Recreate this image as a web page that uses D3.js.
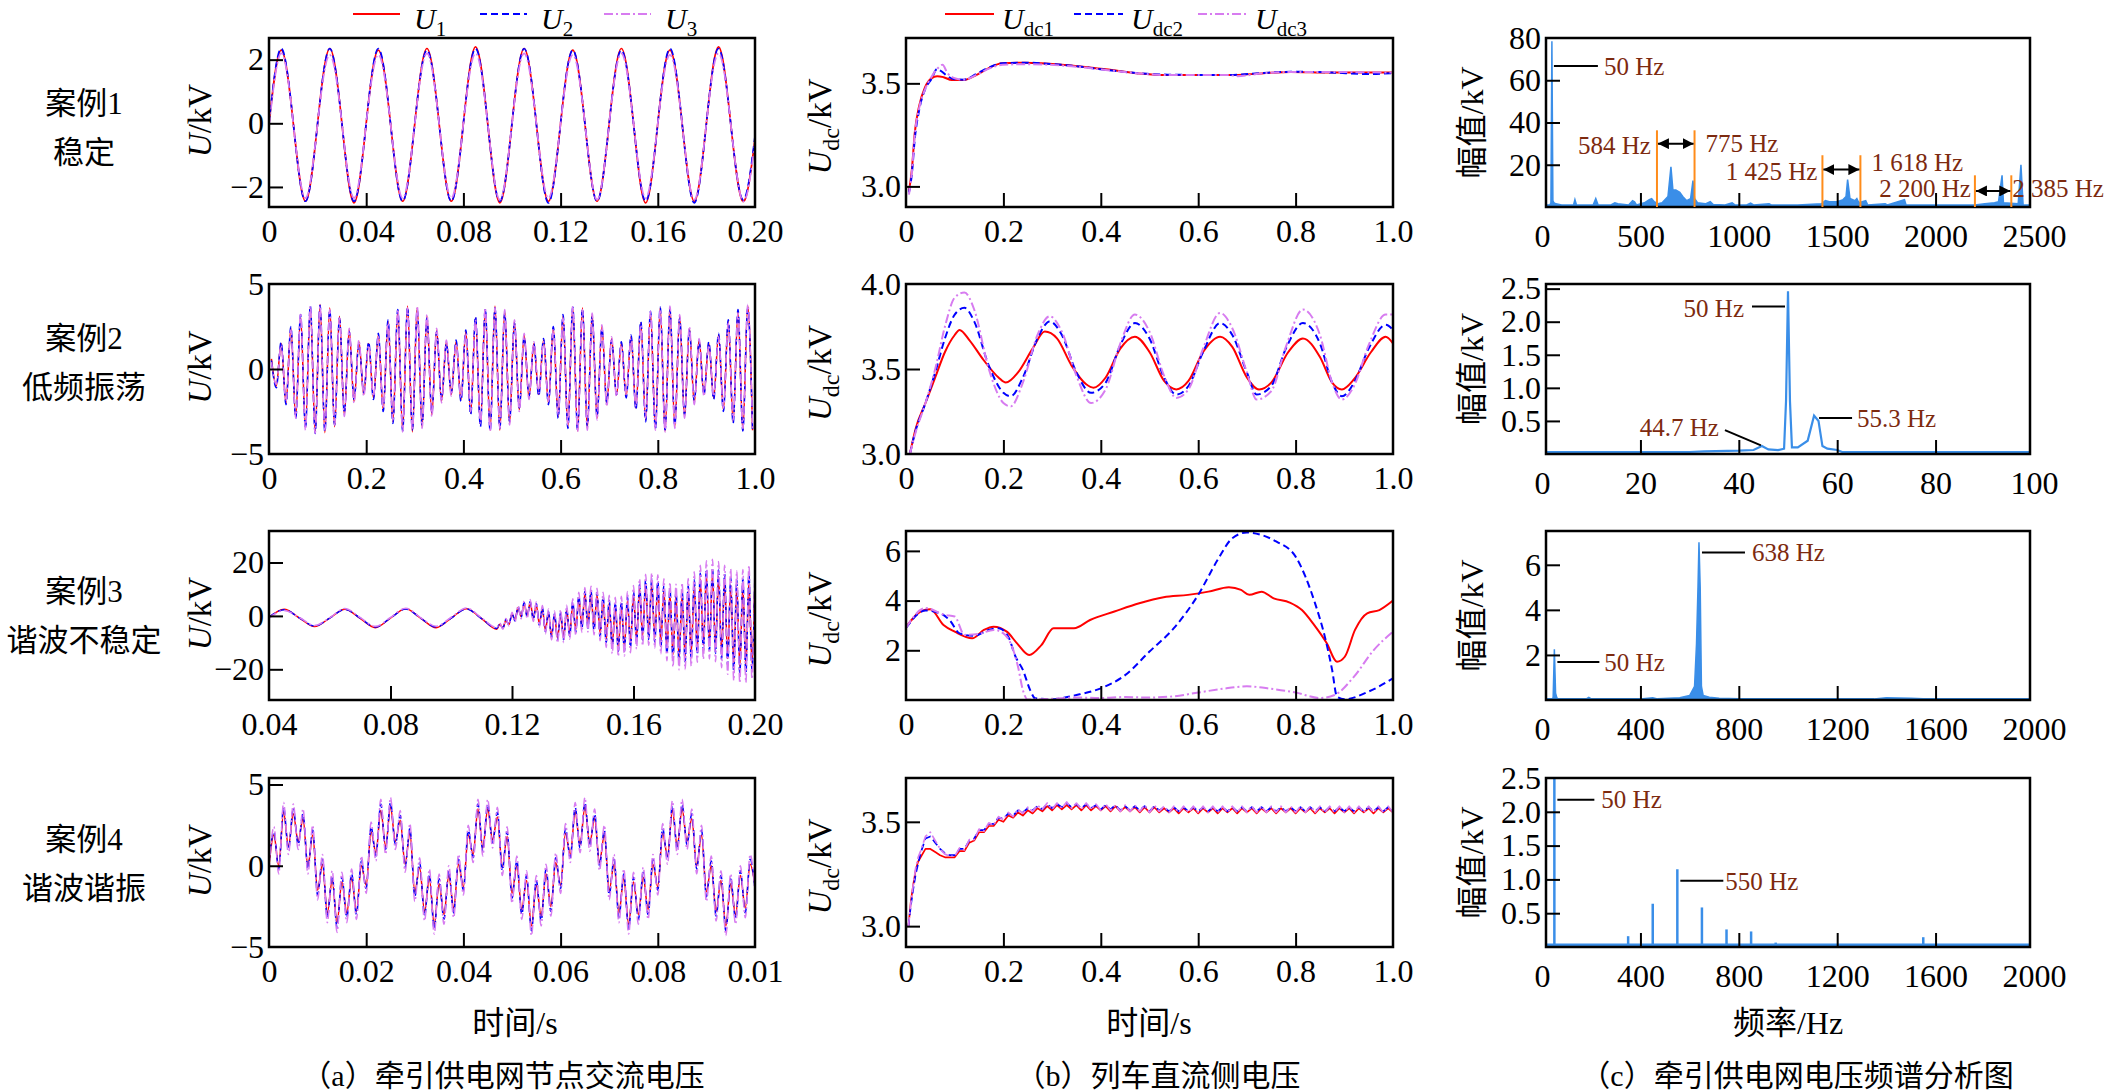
<!DOCTYPE html>
<html><head><meta charset="utf-8">
<script src="https://cdn.jsdelivr.net/npm/d3@7/dist/d3.min.js"></script>
<style>html,body{margin:0;padding:0;background:#fff}svg{display:block}</style>
</head><body>
<svg id="chart" width="2107" height="1092"></svg>
<script>
// ===================== DATA =====================
const caseNames = ["案例1", "案例2", "案例3", "案例4"];
const caseTypes = ["稳定", "低频振荡", "谐波不稳定", "谐波谐振"];
const acLegendSubs = ["1", "2", "3"];
const dcLegendSubs = ["dc1", "dc2", "dc3"];
const xTitles = ["时间/s", "时间/s", "频率/Hz"];
const captions = ["（a）牵引供电网节点交流电压", "（b）列车直流侧电压", "（c）牵引供电网电压频谱分析图"];

// tick values / labels
const ac1XTicks = [0, 0.04, 0.08, 0.12, 0.16, 0.2], ac1XLabels = ["0", "0.04", "0.08", "0.12", "0.16", "0.20"];
const secXTicks = [0, 0.2, 0.4, 0.6, 0.8, 1.0], secXLabels = ["0", "0.2", "0.4", "0.6", "0.8", "1.0"];
const ac3XTicks = [0.04, 0.08, 0.12, 0.16, 0.2], ac3XLabels = ["0.04", "0.08", "0.12", "0.16", "0.20"];
const ac4XTicks = [0, 0.02, 0.04, 0.06, 0.08, 0.1], ac4XLabels = ["0", "0.02", "0.04", "0.06", "0.08", "0.01"];
const sp1XTicks = [0, 500, 1000, 1500, 2000, 2500], sp1XLabels = ["0", "500", "1000", "1500", "2000", "2500"];
const sp2XTicks = [0, 20, 40, 60, 80, 100], sp2XLabels = ["0", "20", "40", "60", "80", "100"];
const sp34XTicks = [0, 400, 800, 1200, 1600, 2000], sp34XLabels = ["0", "400", "800", "1200", "1600", "2000"];

const ac1YTicks = [-2, 0, 2], ac1YLabels = ["−2", "0", "2"];
const ac5YTicks = [-5, 0, 5], ac5YLabels = ["−5", "0", "5"];
const ac3YTicks = [-20, 0, 20], ac3YLabels = ["−20", "0", "20"];
const dc1YTicks = [3.0, 3.5], dc1YLabels = ["3.0", "3.5"];
const dc2YTicks = [3.0, 3.5, 4.0], dc2YLabels = ["3.0", "3.5", "4.0"];
const dc3YTicks = [2, 4, 6], dc3YLabels = ["2", "4", "6"];
const sp1YTicks = [20, 40, 60, 80], sp1YLabels = ["20", "40", "60", "80"];
const sp2YTicks = [0.5, 1.0, 1.5, 2.0, 2.5], sp2YLabels = ["0.5", "1.0", "1.5", "2.0", "2.5"];
const sp3YTicks = [2, 4, 6], sp3YLabels = ["2", "4", "6"];

// ---- Case 1 AC (samples every 0.005 s from 0) ----
const ac1U1 = [0,2.3,0,-2.45, 0,2.35,0,-2.5, 0,2.3,0,-2.45, 0,2.35,0,-2.45, 0,2.4,0,-2.5, 0,2.35,0,-2.45, 0,2.3,0,-2.45, 0,2.35,0,-2.5, 0,2.3,0,-2.45, 0,2.4,0,-2.45, -0.5];
const ac1U2 = [0,2.35,0,-2.45, 0,2.35,0,-2.45, 0,2.35,0,-2.45, 0,2.3,0,-2.45, 0,2.35,0,-2.45, 0,2.35,0,-2.5, 0,2.3,0,-2.45, 0,2.3,0,-2.45, 0,2.35,0,-2.5, 0,2.35,0,-2.4, -0.4];
const ac1U3 = [-0.1,2.2,0,-2.35, 0,2.15,0,-2.35, 0,2.15,0,-2.35, 0,2.2,0,-2.35, 0,2.2,0,-2.4, 0,2.2,0,-2.35, 0,2.15,0,-2.4, 0,2.2,0,-2.35, 0,2.15,0,-2.4, 0,2.2,0,-2.45, -0.6];

// ---- Case 2 AC (extrema every 0.01 s from 0.005) ----
const ac2U1 = [0.6,-1.0,1.5,-2.0,2.4,-2.8,3.1,-3.4,3.6,-3.7, 3.8,-3.75,3.6,-3.4,3.1,-2.7,2.3,-1.9,1.6,-1.5,
  1.5,-1.7,2.0,-2.4,2.8,-3.1,3.4,-3.6,3.7,-3.7, 3.6,-3.4,3.1,-2.7,2.3,-1.9,1.6,-1.5,1.6,-1.8,
  2.2,-2.6,3.0,-3.3,3.5,-3.6,3.7,-3.6,3.4,-3.2, 2.8,-2.4,2.0,-1.7,1.5,-1.5,1.7,-2.0,2.4,-2.8,
  3.1,-3.4,3.6,-3.65,3.6,-3.5,3.2,-2.9,2.5,-2.1, 1.8,-1.55,1.5,-1.6,1.9,-2.3,2.7,-3.0,3.3,-3.5,
  3.6,-3.65,3.6,-3.4,3.1,-2.8,2.4,-2.0,1.7,-1.5, 1.5,-1.7,2.0,-2.4,2.8,-3.1,3.4,-3.6,3.7,-3.6];
const ac2U2 = [0.5,-1.1,1.6,-2.1,2.5,-2.9,3.2,-3.5,3.7,-3.8, 3.75,-3.7,3.5,-3.3,3.0,-2.6,2.2,-1.8,1.5,-1.4,
  1.6,-1.8,2.1,-2.5,2.9,-3.2,3.5,-3.65,3.65,-3.6, 3.5,-3.3,3.0,-2.6,2.2,-1.8,1.5,-1.4,1.7,-1.9,
  2.3,-2.7,3.1,-3.4,3.55,-3.65,3.6,-3.5,3.3,-3.1, 2.7,-2.3,1.9,-1.6,1.5,-1.6,1.8,-2.1,2.5,-2.9,
  3.2,-3.5,3.65,-3.6,3.55,-3.4,3.1,-2.8,2.4,-2.0, 1.7,-1.5,1.6,-1.7,2.0,-2.4,2.8,-3.1,3.4,-3.55,
  3.65,-3.6,3.5,-3.3,3.0,-2.7,2.3,-1.9,1.6,-1.5, 1.6,-1.8,2.1,-2.5,2.9,-3.2,3.5,-3.65,3.6,-3.7];
const ac2U3 = [0.4,-0.9,1.4,-1.9,2.3,-2.9,3.3,-3.6,3.7,-3.8, 3.7,-3.6,3.5,-3.3,3.0,-2.8,2.4,-2.0,1.7,-1.6,
  1.4,-1.6,1.9,-2.3,2.7,-3.0,3.5,-3.7,3.6,-3.6, 3.7,-3.5,3.2,-2.8,2.4,-2.0,1.7,-1.6,1.5,-1.7,
  2.1,-2.5,2.9,-3.2,3.6,-3.7,3.6,-3.5,3.5,-3.3, 2.9,-2.5,2.1,-1.8,1.6,-1.4,1.6,-1.9,2.3,-2.7,
  3.0,-3.3,3.7,-3.7,3.5,-3.6,3.3,-3.0,2.6,-2.2, 1.9,-1.6,1.4,-1.5,1.8,-2.2,2.6,-2.9,3.4,-3.6,
  3.5,-3.7,3.7,-3.5,3.2,-2.9,2.5,-2.1,1.8,-1.6, 1.4,-1.6,1.9,-2.3,2.7,-3.0,3.3,-3.5,3.8,-3.5];

// ---- Case 3 AC: part A every 0.005 s from 0.04, part B every 0.001 s from 0.116 ----
const ac3U1A = [-0.6,2.5,-0.8,-4.0,-0.8,2.5,-0.9,-4.4,-0.8,2.7,-0.9,-4.4,-0.8,2.7,-1.0,-5.0];
const ac3U2A = [-0.5,2.3,-0.7,-3.8,-0.8,2.4,-0.8,-4.2,-0.8,2.6,-0.9,-4.2,-0.8,2.6,-1.0,-4.7];
const ac3U3A = [-0.8,2.0,-0.6,-3.6,-0.7,2.8,-0.6,-3.9,-0.6,2.9,-0.7,-3.9,-0.5,3.0,-0.8,-4.3];
const ac3U1B = [-3.1,-4.5,-1.6,-3.2,0.7,-1.6,3.1,-0.3,4.6,0.0, 5.0,-0.9,4.1,-2.9,2.5,-5.3,1.0,-7.4,0.1,-8.3,
  0.5,-8.1,2.1,-6.8,4.3,-5.1,6.7,-3.8,8.2,-3.5, 8.5,-4.5,7.7,-6.5,6.1,-8.9,4.6,-11.0,3.7,-11.9,
  4.1,-11.6,5.6,-10.3,7.9,-8.7,10.2,-7.4,11.8,-7.1, 12.1,-8.1,11.3,-10.1,9.7,-12.4,8.1,-14.5,7.3,-15.5,
  7.6,-15.2,9.2,-13.9,11.4,-12.3,13.8,-10.9,15.3,-10.7, 15.7,-11.6,14.8,-13.6,13.2,-16.0,11.7,-18.1,10.9,-19.1,
  11.2,-18.8,12.7,-17.5,15.0];
const ac3U2B = [-2.9,-4.7,-1.3,-3.4,1.0,-1.9,3.4,-0.6,5.0,-0.4, 5.4,-1.4,4.6,-3.5,3.1,-5.9,1.7,-8.1,0.9,-9.1,
  1.3,-8.9,2.9,-7.6,5.2,-6.1,7.6,-4.8,9.2,-4.6, 9.6,-5.6,8.8,-7.7,7.3,-10.1,5.9,-12.3,5.1,-13.3,
  5.5,-13.1,7.1,-11.8,9.4,-10.3,11.8,-9.0,13.4,-8.8, 13.8,-9.8,13.0,-11.9,11.5,-14.3,10.1,-16.5,9.3,-17.5,
  9.7,-17.3,11.3,-16.0,13.6,-14.5,16.0,-13.2,17.6,-13.0, 18.0,-14.0,17.2,-16.1,15.7,-18.5,14.3,-20.7,13.5,-21.7,
  13.9,-21.5,15.5,-20.2,17.8];
const ac3U3B = [-2.7,-5.0,-1.0,-3.7,1.4,-2.3,3.9,-1.1,5.6,-1.0, 6.1,-2.1,5.3,-4.2,3.9,-6.8,2.6,-9.0,1.8,-10.1,
  2.3,-10.0,4.0,-8.7,6.4,-7.3,8.9,-6.2,10.6,-6.0, 11.1,-7.1,10.4,-9.3,8.9,-11.8,7.7,-14.1,7.0,-15.2,
  7.4,-15.0,9.1,-13.8,11.4,-12.4,13.9,-11.2,15.6,-11.0, 16.1,-12.1,15.4,-14.3,13.9,-16.8,12.6,-19.1,11.9,-20.2,
  12.4,-20.1,14.0,-18.8,16.5,-17.4,19.0,-16.2,20.7,-16.1, 21.2,-17.2,20.4,-19.4,19.0,-21.9,17.6,-24.2,16.9,-25.2,
  17.4,-25.0,19.0,-23.7,21.3];

// ---- Case 4 AC (every 0.001 s from 0) ----
const ac4U1 = [0,1.9,0.0,3.3,1.2,3.2,1.5,2.9,0.0,1.9, -1.5,0.1,-2.9,-0.9,-3.5,-1.0,-2.9,-0.8,-2.8,0.0,
  -1.2,2.1,0.8,3.4,1.2,3.6,1.5,2.8,0.1,2.0, -1.6,-0.1,-2.8,-0.8,-3.6,-1.1,-3.0,-0.6,-2.6,0.1,
  -1.3,1.9,0.7,3.5,1.1,3.5,1.6,3.0,-0.1,1.8, -1.7,0.0,-2.7,-0.9,-3.7,-1.2,-3.1,-0.5,-2.5,0.2,
  -1.2,2.0,0.7,3.3,1.3,3.6,1.4,2.9,0.2,1.9, -1.5,0.1,-2.9,-0.8,-3.6,-1.0,-3.0,-0.7,-2.7,0.1,
  -1.3,2.0,0.6,3.4,1.2,3.5,1.5,2.9,0.0,1.9, -1.6,0.0,-2.8,-0.9,-3.7,-1.1,-3.0,-0.6,-2.6,0.1, -1.2];
const ac4U2 = [0.2,2.1,-0.2,3.6,1.0,3.5,1.3,3.2,-0.2,2.2, -1.8,0.4,-3.2,-0.6,-3.8,-0.7,-3.2,-0.5,-3.0,0.3,
  -1.4,2.4,0.6,3.8,1.0,3.9,1.3,3.1,-0.1,2.3, -1.9,0.2,-3.1,-0.5,-3.9,-0.8,-3.3,-0.3,-2.9,0.4,
  -1.5,2.2,0.5,3.8,0.9,3.8,1.4,3.3,-0.3,2.1, -2.0,0.3,-3.0,-0.6,-4.0,-0.9,-3.4,-0.2,-2.8,0.5,
  -1.4,2.3,0.5,3.6,1.1,3.9,1.2,3.2,0.0,2.2, -1.8,0.4,-3.2,-0.5,-3.9,-0.7,-3.3,-0.4,-3.0,0.4,
  -1.5,2.3,0.4,3.7,1.0,3.8,1.3,3.2,-0.2,2.2, -1.9,0.3,-3.1,-0.6,-4.0,-0.8,-3.3,-0.3,-2.9,0.4, -1.4];
const ac4U3 = [-0.4,2.4,-0.5,3.9,0.7,3.8,1.0,3.5,-0.5,2.5, -2.1,0.7,-3.5,-0.3,-4.1,-0.4,-3.5,-0.2,-3.3,0.6,
  -1.7,2.7,0.3,4.1,0.7,4.2,1.0,3.4,-0.4,2.6, -2.2,0.5,-3.4,-0.2,-4.2,-0.5,-3.6,0.0,-3.2,0.7,
  -1.8,2.5,0.2,4.1,0.6,4.1,1.1,3.6,-0.6,2.4, -2.3,0.6,-3.3,-0.3,-4.3,-0.6,-3.7,0.1,-3.1,0.8,
  -1.7,2.6,0.2,3.9,0.8,4.2,0.9,3.5,-0.3,2.5, -2.1,0.7,-3.5,-0.2,-4.2,-0.4,-3.6,-0.1,-3.3,0.7,
  -1.8,2.6,0.1,4.0,0.7,4.1,1.0,3.5,-0.5,2.5, -2.2,0.6,-3.4,-0.3,-4.3,-0.5,-3.6,0.0,-3.2,0.7, -1.7];

// ---- Case 1 DC ----
const dc1T1 = [0.006,0.012,0.018,0.027,0.039,0.052,0.064,0.077,0.094,0.119,0.144,0.169,0.198,0.244,0.328,0.41,0.495,0.537,0.663,0.73,0.79,0.87,1.0];
const dc1V1 = [2.976,3.08,3.26,3.39,3.48,3.524,3.535,3.53,3.516,3.516,3.54,3.573,3.597,3.6,3.589,3.568,3.545,3.54,3.54,3.548,3.555,3.552,3.552];
const dc1T2 = [0.006,0.012,0.018,0.027,0.039,0.052,0.064,0.072,0.085,0.1,0.119,0.144,0.169,0.198,0.244,0.328,0.41,0.495,0.537,0.663,0.73,0.79,0.87,0.95,1.0];
const dc1V2 = [2.97,3.06,3.23,3.37,3.47,3.52,3.57,3.56,3.535,3.52,3.518,3.545,3.575,3.598,3.6,3.588,3.566,3.546,3.542,3.54,3.55,3.556,3.553,3.545,3.55];
const dc1T3 = [0.006,0.012,0.018,0.027,0.039,0.052,0.064,0.075,0.085,0.1,0.119,0.144,0.169,0.198,0.244,0.328,0.41,0.495,0.537,0.663,0.68,0.73,0.79,0.87,1.0];
const dc1V3 = [2.96,3.07,3.25,3.38,3.47,3.53,3.57,3.59,3.55,3.525,3.518,3.54,3.57,3.59,3.593,3.585,3.565,3.545,3.54,3.54,3.535,3.548,3.555,3.555,3.552];

// ---- Case 2 DC ----
const dc2T1 = [0.008,0.02,0.04,0.06,0.08,0.1,0.11,0.13,0.16,0.19,0.205,0.23,0.26,0.285,0.31,0.34,0.37,0.385,0.41,0.44,0.47,0.5,0.53,0.555,0.58,0.61,0.645,0.67,0.7,0.725,0.75,0.785,0.815,0.85,0.875,0.895,0.92,0.955,0.985,1.0];
const dc2V1 = [3.0,3.15,3.3,3.45,3.6,3.7,3.73,3.67,3.55,3.45,3.42,3.48,3.62,3.72,3.68,3.52,3.41,3.39,3.45,3.62,3.69,3.6,3.43,3.38,3.43,3.6,3.69,3.63,3.45,3.38,3.42,3.6,3.68,3.57,3.42,3.38,3.44,3.6,3.69,3.65];
const dc2T23 = [0.008,0.02,0.04,0.06,0.08,0.1,0.12,0.14,0.17,0.2,0.215,0.24,0.27,0.295,0.32,0.35,0.38,0.41,0.44,0.47,0.5,0.53,0.555,0.58,0.61,0.645,0.67,0.7,0.72,0.75,0.78,0.815,0.85,0.875,0.895,0.92,0.95,0.985,1.0];
const dc2V2 = [3.0,3.14,3.3,3.48,3.68,3.82,3.86,3.78,3.52,3.36,3.34,3.45,3.68,3.78,3.7,3.48,3.36,3.42,3.64,3.77,3.68,3.45,3.35,3.4,3.6,3.77,3.7,3.48,3.35,3.4,3.62,3.77,3.65,3.42,3.34,3.42,3.62,3.76,3.73];
const dc2V3 = [3.0,3.13,3.3,3.5,3.75,3.92,3.95,3.85,3.5,3.3,3.28,3.42,3.7,3.81,3.72,3.46,3.3,3.38,3.65,3.82,3.72,3.46,3.33,3.38,3.62,3.83,3.74,3.48,3.32,3.37,3.63,3.85,3.7,3.42,3.32,3.4,3.64,3.82,3.82];

// ---- Case 3 DC ----
const dc3T1 = [0,0.03,0.05,0.077,0.1,0.136,0.16,0.18,0.207,0.228,0.253,0.278,0.303,0.345,0.378,0.428,0.479,0.529,0.579,0.621,0.663,0.688,0.705,0.73,0.755,0.788,0.813,0.838,0.864,0.885,0.901,0.922,0.947,0.972,1.0];
const dc3V1 = [2.93,3.56,3.65,3.02,2.75,2.48,2.82,2.95,2.75,2.28,1.81,2.21,2.89,2.89,3.22,3.56,3.89,4.13,4.23,4.36,4.54,4.43,4.23,4.36,4.09,3.92,3.62,3.02,2.28,1.54,1.74,2.82,3.49,3.62,4.0];
const dc3T2 = [0,0.04,0.07,0.09,0.11,0.14,0.17,0.19,0.21,0.225,0.24,0.255,0.265,0.3,0.35,0.4,0.45,0.5,0.55,0.6,0.64,0.67,0.7,0.73,0.76,0.8,0.82,0.84,0.86,0.875,0.885,0.9,0.95,1.0];
const dc3V2 = [2.9,3.6,3.49,3.2,2.68,2.58,2.82,2.89,2.55,1.74,1.21,0.4,0.07,0.03,0.2,0.47,1.0,1.95,2.89,4.23,5.64,6.51,6.74,6.64,6.38,5.77,4.97,3.89,2.55,1.21,0.13,0.03,0.34,0.87];
const dc3T3 = [0,0.04,0.08,0.1,0.12,0.15,0.18,0.2,0.215,0.23,0.24,0.25,0.3,0.35,0.4,0.45,0.5,0.55,0.6,0.65,0.7,0.75,0.8,0.85,0.88,0.92,0.96,1.0];
const dc3V3 = [2.9,3.7,3.42,3.36,2.62,2.66,2.82,2.68,2.28,1.34,0.4,0.02,0.05,0.1,0.08,0.12,0.1,0.15,0.3,0.45,0.55,0.45,0.3,0.08,0.2,0.94,2.0,2.75];

// ---- Case 4 DC: head (explicit times) + tail every 0.01 s from 0.1 ----
const dc4HeadT = [0.005,0.01,0.015,0.02,0.025,0.03,0.04,0.05,0.06,0.07,0.08,0.09];
const dc4Head1 = [3.0,3.12,3.2,3.27,3.31,3.33,3.37,3.37,3.355,3.34,3.33,3.33];
const dc4Head2 = [3.0,3.1,3.18,3.25,3.3,3.35,3.42,3.43,3.4,3.37,3.35,3.34];
const dc4Head3 = [3.0,3.11,3.2,3.28,3.33,3.36,3.43,3.45,3.41,3.37,3.345,3.335];
const dc4Tail1 = [3.33,3.36,3.36,3.40,3.41,3.45,3.45,3.48,3.48,3.51,
  3.50,3.53,3.52,3.545,3.53,3.555,3.54,3.565,3.55,3.575,
  3.555,3.58,3.56,3.58,3.56,3.58,3.555,3.58,3.555,3.575,
  3.555,3.575,3.55,3.575,3.55,3.57,3.55,3.57,3.545,3.57,
  3.545,3.57,3.545,3.565,3.545,3.565,3.54,3.565,3.545,3.565,
  3.54,3.565,3.545,3.565,3.54,3.565,3.545,3.565,3.54,3.565,
  3.545,3.565,3.54,3.565,3.545,3.565,3.54,3.565,3.545,3.565,
  3.54,3.565,3.545,3.565,3.54,3.565,3.545,3.565,3.54,3.565,
  3.545,3.565,3.54,3.565,3.545,3.565,3.54,3.565,3.545,3.565,3.545];
const dc4Tail2 = [3.34,3.37,3.37,3.41,3.42,3.46,3.46,3.49,3.49,3.52,
  3.515,3.54,3.53,3.555,3.545,3.565,3.555,3.575,3.56,3.585,
  3.565,3.585,3.57,3.59,3.57,3.585,3.565,3.585,3.565,3.58,
  3.56,3.58,3.56,3.58,3.555,3.575,3.555,3.575,3.555,3.575,
  3.55,3.575,3.555,3.57,3.55,3.57,3.55,3.57,3.55,3.57,
  3.55,3.57,3.55,3.57,3.55,3.57,3.55,3.57,3.55,3.57,
  3.55,3.57,3.55,3.57,3.55,3.57,3.55,3.57,3.55,3.57,
  3.55,3.57,3.55,3.57,3.55,3.57,3.55,3.57,3.55,3.57,
  3.55,3.57,3.55,3.57,3.55,3.57,3.55,3.57,3.55,3.57,3.55];
const dc4Tail3 = [3.335,3.375,3.365,3.415,3.415,3.465,3.455,3.495,3.485,3.525,
  3.51,3.545,3.525,3.56,3.54,3.57,3.55,3.58,3.56,3.59,
  3.56,3.59,3.565,3.595,3.565,3.59,3.56,3.59,3.56,3.585,
  3.555,3.585,3.555,3.58,3.55,3.58,3.55,3.58,3.55,3.58,
  3.545,3.58,3.55,3.575,3.545,3.575,3.545,3.575,3.545,3.575,
  3.545,3.575,3.545,3.575,3.545,3.575,3.545,3.575,3.545,3.575,
  3.545,3.575,3.545,3.575,3.545,3.575,3.545,3.575,3.545,3.575,
  3.545,3.575,3.545,3.575,3.545,3.575,3.545,3.575,3.545,3.575,
  3.545,3.575,3.545,3.575,3.545,3.575,3.545,3.575,3.545,3.575,3.545];

// ---- Spectra ----
const sp1Freq = [20,40,45,50,55,60,70,100,160,167,175,260,273,285,350,370,385,440,460,470,480,520,545,557,570,590,610,640,655,665,680,700,715,735,755,767,775,790,830,855,870,930,966,980,1040,1060,1075,1154,1165,1300,1420,1440,1460,1500,1530,1545,1553,1565,1590,1600,1610,1645,1655,1744,1755,1842,1850,2000,2200,2250,2300,2320,2338,2345,2420,2434,2445,2480];
const sp1Amp = [1,1,2,78.5,3,2,1.5,1,1,3.5,1,1,4,1,1,2,1.5,1,3,2.5,1,2,3.5,4,2.5,1.5,2,5,19,8,8,7,5,3,4,12.5,4,2,1.5,2.5,1.2,1,2,1,1,1.8,1,1.5,1,1,1.5,3,2.5,2.5,3.5,5,13,4,3,4,2,3,1,1.5,1,3.5,1,1,1,1.5,2,2.5,15,2,1.5,20,1,1];
const sp2Freq = [0.8,30,33,40,43,44.7,46,48,49.2,49.6,50,50.4,50.8,52,54,55.3,56.2,57,58,60,61,70,99.2];
const sp2Amp = [0.03,0.03,0.04,0.05,0.06,0.12,0.07,0.06,0.08,0.8,2.46,0.8,0.1,0.1,0.2,0.58,0.5,0.12,0.08,0.06,0.03,0.03,0.03];
const sp3Freq = [16,40,45,50,55,60,65,180,190,200,400,450,470,560,600,620,628,634,638,643,648,655,680,720,800,1350,1400,1500,1550,1984];
const sp3Amp = [0.05,0.05,0.1,2.25,0.3,0.1,0.05,0.05,0.12,0.05,0.05,0.1,0.05,0.1,0.2,0.6,2.5,5,7.0,5,0.6,0.2,0.12,0.08,0.05,0.05,0.1,0.08,0.05,0.05];
const sp4Freq = [50,150,200,250,350,450,550,600,650,750,850,950,1000,1050,1150,1400,1550,1650,1750,1800];
const sp4Amp = [2.5,0.02,0.02,0.02,0.16,0.64,1.15,0.02,0.585,0.26,0.23,0.065,0.03,0.04,0.04,0.02,0.145,0.03,0.04,0.02];

// ===================== RENDER =====================
const svg = d3.select('#chart');
const defs = svg.append('defs');
const LATIN = "'Liberation Serif','Times New Roman',serif";
const MIXED = "'Liberation Serif','Times New Roman','Noto Sans CJK SC',serif";
const BLUE = '#3a8ee8', BROWN = '#7d2a0f', ORANGE = '#ff8c1a';
const STY = [
  { color: '#ff0000', dash: null },
  { color: '#0000ff', dash: '7,4' },
  { color: '#d77cf0', dash: '9,3,2,3' }
];
const cols = [{ x: 269, w: 486 }, { x: 906, w: 487 }, { x: 1546, w: 484 }];
const rows = [{ y: 38, h: 169 }, { y: 284, h: 170 }, { y: 531, h: 169 }, { y: 778, h: 169 }];

defs.append('marker').attr('id', 'arr').attr('viewBox', '0 0 10 10').attr('refX', 10).attr('refY', 5)
  .attr('markerWidth', 11).attr('markerHeight', 11).attr('markerUnits', 'userSpaceOnUse')
  .attr('orient', 'auto-start-reverse')
  .append('path').attr('d', 'M0,0L10,5L0,10z').attr('fill', '#000');

const uniform = (t0, dt, vals) => vals.map((v, i) => [t0 + i * dt, v]);
const paired = (ts, vals) => ts.map((t, i) => [t, vals[i]]);

function panel(ci, ri, xDom, yDom, xt, xl, yt, yl, xPad) {
  const c = cols[ci], r = rows[ri];
  const x = d3.scaleLinear().domain(xDom).range([c.x, c.x + c.w]);
  const y = d3.scaleLinear().domain(yDom).range([r.y + r.h, r.y]);
  const id = 'clip' + ci + ri;
  defs.append('clipPath').attr('id', id).append('rect')
    .attr('x', c.x).attr('y', r.y).attr('width', c.w).attr('height', r.h);
  const plot = svg.append('g').attr('clip-path', 'url(#' + id + ')');
  const finish = () => {
    const gx = svg.append('g').attr('transform', `translate(0,${r.y + r.h})`)
      .call(d3.axisBottom(x).tickValues(xt).tickSize(-14).tickPadding(xPad).tickFormat((d, i) => xl[i]));
    const gy = svg.append('g').attr('transform', `translate(${c.x},0)`)
      .call(d3.axisLeft(y).tickValues(yt).tickSize(-14).tickPadding(5).tickFormat((d, i) => yl[i]));
    [gx, gy].forEach(g => {
      g.attr('font-family', LATIN).attr('font-size', 32);
      g.select('.domain').remove();
      g.selectAll('.tick text').attr('fill', '#000');
      g.selectAll('.tick line').attr('stroke', '#000').attr('stroke-width', 2);
    });
    gx.selectAll('.tick').filter(d => x(d) <= c.x + 2 || x(d) >= c.x + c.w - 2).select('line').remove();
    gy.selectAll('.tick').filter(d => y(d) <= r.y + 2 || y(d) >= r.y + r.h - 2).select('line').remove();
    svg.append('rect').attr('x', c.x).attr('y', r.y).attr('width', c.w).attr('height', r.h)
      .attr('fill', 'none').attr('stroke', '#000').attr('stroke-width', 2.5);
  };
  return { x, y, plot, finish, c, r };
}

function drawLines(p, list, curve, width) {
  list.forEach((pts, k) => {
    p.plot.append('path').datum(pts)
      .attr('fill', 'none').attr('stroke', STY[k].color).attr('stroke-width', width)
      .attr('stroke-dasharray', STY[k].dash).attr('stroke-linejoin', 'round')
      .attr('d', d3.line().x(d => p.x(d[0])).y(d => p.y(d[1])).curve(curve));
  });
}

// ---- Column 1: AC voltages ----
const ac1 = panel(0, 0, [0, 0.2], [-2.63, 2.68], ac1XTicks, ac1XLabels, ac1YTicks, ac1YLabels, 12);
drawLines(ac1, [uniform(0, 0.005, ac1U1), uniform(0, 0.005, ac1U2), uniform(0, 0.005, ac1U3)], d3.curveNatural, 1.7);
ac1.finish();

const ac2 = panel(0, 1, [0, 1], [-5, 5], secXTicks, secXLabels, ac5YTicks, ac5YLabels, 12);
drawLines(ac2, [uniform(0.005, 0.01, ac2U1), uniform(0.005, 0.01, ac2U2), uniform(0.005, 0.01, ac2U3)], d3.curveMonotoneX, 1.5);
ac2.finish();

const ac3 = panel(0, 2, [0.04, 0.2], [-31.5, 31.8], ac3XTicks, ac3XLabels, ac3YTicks, ac3YLabels, 12);
drawLines(ac3, [
  uniform(0.04, 0.005, ac3U1A).concat(uniform(0.116, 0.001, ac3U1B)),
  uniform(0.04, 0.005, ac3U2A).concat(uniform(0.116, 0.001, ac3U2B)),
  uniform(0.04, 0.005, ac3U3A).concat(uniform(0.116, 0.001, ac3U3B))
], d3.curveMonotoneX, 1.5);
ac3.finish();

const ac4 = panel(0, 3, [0, 0.1], [-5, 5.4], ac4XTicks, ac4XLabels, ac5YTicks, ac5YLabels, 12);
drawLines(ac4, [uniform(0, 0.001, ac4U1), uniform(0, 0.001, ac4U2), uniform(0, 0.001, ac4U3)], d3.curveMonotoneX, 1.5);
ac4.finish();

// ---- Column 2: DC voltages ----
const dc1 = panel(1, 0, [0, 1], [2.9, 3.72], secXTicks, secXLabels, dc1YTicks, dc1YLabels, 12);
drawLines(dc1, [paired(dc1T1, dc1V1), paired(dc1T2, dc1V2), paired(dc1T3, dc1V3)], d3.curveMonotoneX, 2);
dc1.finish();

const dc2 = panel(1, 1, [0, 1], [3.0, 4.0], secXTicks, secXLabels, dc2YTicks, dc2YLabels, 12);
drawLines(dc2, [paired(dc2T1, dc2V1), paired(dc2T23, dc2V2), paired(dc2T23, dc2V3)], d3.curveMonotoneX, 2);
dc2.finish();

const dc3 = panel(1, 2, [0, 1], [0, 6.8], secXTicks, secXLabels, dc3YTicks, dc3YLabels, 12);
drawLines(dc3, [paired(dc3T1, dc3V1), paired(dc3T2, dc3V2), paired(dc3T3, dc3V3)], d3.curveMonotoneX, 2);
dc3.finish();

const dc4 = panel(1, 3, [0, 1], [2.9, 3.71], secXTicks, secXLabels, dc1YTicks, dc1YLabels, 12);
drawLines(dc4, [
  paired(dc4HeadT, dc4Head1).concat(uniform(0.1, 0.01, dc4Tail1)),
  paired(dc4HeadT, dc4Head2).concat(uniform(0.1, 0.01, dc4Tail2)),
  paired(dc4HeadT, dc4Head3).concat(uniform(0.1, 0.01, dc4Tail3))
], d3.curveLinear, 1.7);
dc4.finish();

// ---- Column 3: spectra ----
function seg(x1, y1, x2, y2, color, w, arrow) {
  const l = svg.append('line').attr('x1', x1).attr('y1', y1).attr('x2', x2).attr('y2', y2)
    .attr('stroke', color).attr('stroke-width', w);
  if (arrow) l.attr('marker-start', 'url(#arr)').attr('marker-end', 'url(#arr)');
}
function note(txt, x, y, anchor) {
  svg.append('text').attr('x', x).attr('y', y).attr('dy', '0.35em').attr('text-anchor', anchor || 'start')
    .attr('font-family', LATIN).attr('font-size', 25).attr('fill', BROWN).text(txt);
}
const areaOf = p => d3.area().x(d => p.x(d[0])).y0(p.y(0)).y1(d => p.y(d[1]));

const sp1 = panel(2, 0, [20, 2480], [0, 80], sp1XTicks, sp1XLabels, sp1YTicks, sp1YLabels, 17);
sp1.plot.append('path').datum(paired(sp1Freq, sp1Amp)).attr('fill', BLUE).attr('stroke', BLUE)
  .attr('stroke-width', 1.5).attr('d', areaOf(sp1));
sp1.finish();
{
  const p = sp1;
  seg(p.x(50) + 2, p.y(66.7), p.x(50) + 46, p.y(66.7), '#000', 2);
  note('50 Hz', p.x(50) + 52, p.y(66.7));
  [[584, 36.3], [775, 36.3], [1425, 24.5], [1618, 24.5], [2200, 15], [2385, 15]].forEach(([f, a]) =>
    seg(p.x(f), p.y(a), p.x(f), p.y(0), ORANGE, 2));
  seg(p.x(584) + 1, p.y(30), p.x(775) - 1, p.y(30), '#000', 2, true);
  seg(p.x(1425) + 1, p.y(17.7), p.x(1618) - 1, p.y(17.7), '#000', 2, true);
  seg(p.x(2200) + 1, p.y(7.6), p.x(2385) - 1, p.y(7.6), '#000', 2, true);
  note('584 Hz', p.x(584) - 6, p.y(29.2), 'end');
  note('775 Hz', p.x(775) + 11, p.y(30.2));
  note('1 425 Hz', p.x(1425) - 5, p.y(17.0), 'end');
  note('1 618 Hz', p.x(1618) + 11, p.y(21.3));
  note('2 200 Hz', p.x(2200) - 4, p.y(8.85), 'end');
  note('2 385 Hz', p.x(2385) + 1, p.y(8.85));
}

const sp2 = panel(2, 1, [0.8, 99.2], [0, 2.57], sp2XTicks, sp2XLabels, sp2YTicks, sp2YLabels, 17);
sp2.plot.append('path').datum(paired(sp2Freq, sp2Amp)).attr('fill', 'none').attr('stroke', BLUE)
  .attr('stroke-width', 2.2).attr('d', d3.line().x(d => sp2.x(d[0])).y(d => sp2.y(d[1])));
sp2.finish();
{
  const p = sp2;
  seg(p.x(50) - 36, p.y(2.23), p.x(50) - 3, p.y(2.23), '#000', 2);
  note('50 Hz', p.x(50) - 44, p.y(2.2), 'end');
  seg(p.x(44.7) - 37, p.y(0.36), p.x(44.7) - 1, p.y(0.13), '#000', 2);
  note('44.7 Hz', p.x(44.7) - 43, p.y(0.4), 'end');
  seg(p.x(55.3) + 5, p.y(0.545), p.x(55.3) + 38, p.y(0.545), '#000', 2);
  note('55.3 Hz', p.x(55.3) + 43, p.y(0.545));
}

const sp3 = panel(2, 2, [16, 1984], [0, 7.5], sp34XTicks, sp34XLabels, sp3YTicks, sp3YLabels, 17);
sp3.plot.append('path').datum(paired(sp3Freq, sp3Amp)).attr('fill', BLUE).attr('stroke', BLUE)
  .attr('stroke-width', 1.5).attr('d', areaOf(sp3));
sp3.finish();
{
  const p = sp3;
  seg(p.x(638) + 3, p.y(6.55), p.x(638) + 46, p.y(6.55), '#000', 2);
  note('638 Hz', p.x(638) + 53, p.y(6.55));
  seg(p.x(50) + 3, p.y(1.69), p.x(50) + 45, p.y(1.69), '#000', 2);
  note('50 Hz', p.x(50) + 50, p.y(1.69));
}

const sp4 = panel(2, 3, [16, 1984], [0, 2.5], sp34XTicks, sp34XLabels, sp2YTicks, sp2YLabels, 17);
sp4.plot.append('line').attr('x1', sp4.x(16)).attr('x2', sp4.x(1984)).attr('y1', sp4.y(0) - 2).attr('y2', sp4.y(0) - 2)
  .attr('stroke', BLUE).attr('stroke-width', 3);
sp4.plot.selectAll('line.stem').data(paired(sp4Freq, sp4Amp)).join('line').attr('class', 'stem')
  .attr('x1', d => sp4.x(d[0])).attr('x2', d => sp4.x(d[0]))
  .attr('y1', sp4.y(0)).attr('y2', d => sp4.y(d[1]))
  .attr('stroke', BLUE).attr('stroke-width', 2.5);
sp4.finish();
{
  const p = sp4;
  seg(p.x(50) + 3, p.y(2.18), p.x(50) + 40, p.y(2.18), '#000', 2);
  note('50 Hz', p.x(50) + 47, p.y(2.18));
  seg(p.x(550) + 3, p.y(0.98), p.x(550) + 46, p.y(0.98), '#000', 2);
  note('550 Hz', p.x(550) + 48, p.y(0.98));
}

// ---- Legends ----
function legend(starts, len, gap, subs, lineY, textY) {
  starts.forEach((sx, k) => {
    svg.append('line').attr('x1', sx).attr('x2', sx + len).attr('y1', lineY).attr('y2', lineY)
      .attr('stroke', STY[k].color).attr('stroke-width', 2).attr('stroke-dasharray', STY[k].dash);
    const t = svg.append('text').attr('x', sx + len + gap).attr('y', textY)
      .attr('font-family', LATIN).attr('font-size', 30).attr('fill', '#000');
    t.append('tspan').attr('font-style', 'italic').text('U');
    t.append('tspan').attr('font-size', 21).attr('dy', 7).text(subs[k]);
  });
}
legend([353, 480, 604], 47, 14, acLegendSubs, 14, 29);
legend([945, 1074, 1198], 49, 8, dcLegendSubs, 14, 29);

// ---- Y axis titles ----
rows.forEach((r, ri) => {
  const yc = r.y + r.h / 2;
  const t1 = svg.append('text').attr('transform', `translate(211,${yc - 2}) rotate(-90)`)
    .attr('text-anchor', 'middle').attr('font-family', LATIN).attr('font-size', 33).attr('fill', '#000');
  t1.append('tspan').attr('font-style', 'italic').text('U');
  t1.append('tspan').text('/kV');

  const t2 = svg.append('text').attr('transform', `translate(831,${yc + 4}) rotate(-90)`)
    .attr('text-anchor', 'middle').attr('font-family', LATIN).attr('font-size', 33).attr('fill', '#000');
  t2.append('tspan').attr('font-style', 'italic').text('U');
  t2.append('tspan').attr('font-size', 24).attr('dy', 8).text('dc');
  t2.append('tspan').attr('dy', -8).text('/kV');

  svg.append('text').attr('transform', `translate(1483,${yc}) rotate(-90)`)
    .attr('text-anchor', 'middle').attr('font-family', MIXED).attr('font-size', 32).attr('fill', '#000')
    .text('幅值/kV');
});

// ---- Row labels ----
const rowMid = [127, 362, 615, 863];
caseNames.forEach((n, i) => {
  svg.append('text').attr('x', 84).attr('y', rowMid[i] - 24).attr('dy', '0.35em').attr('text-anchor', 'middle')
    .attr('font-family', MIXED).attr('font-size', 31).attr('fill', '#000').text(n);
  svg.append('text').attr('x', 84).attr('y', rowMid[i] + 25).attr('dy', '0.35em').attr('text-anchor', 'middle')
    .attr('font-family', MIXED).attr('font-size', 31).attr('fill', '#000').text(caseTypes[i]);
});

// ---- X titles and captions ----
const titleX = [515, 1149, 1788], capX = [503, 1158, 1797];
xTitles.forEach((t, i) => {
  svg.append('text').attr('x', titleX[i]).attr('y', 1023).attr('dy', '0.35em').attr('text-anchor', 'middle')
    .attr('font-family', MIXED).attr('font-size', 32).attr('fill', '#000').text(t);
});
captions.forEach((t, i) => {
  svg.append('text').attr('x', capX[i]).attr('y', 1075).attr('dy', '0.35em').attr('text-anchor', 'middle')
    .attr('font-family', MIXED).attr('font-size', 30).attr('fill', '#000').text(t);
});
</script>
</body></html>
